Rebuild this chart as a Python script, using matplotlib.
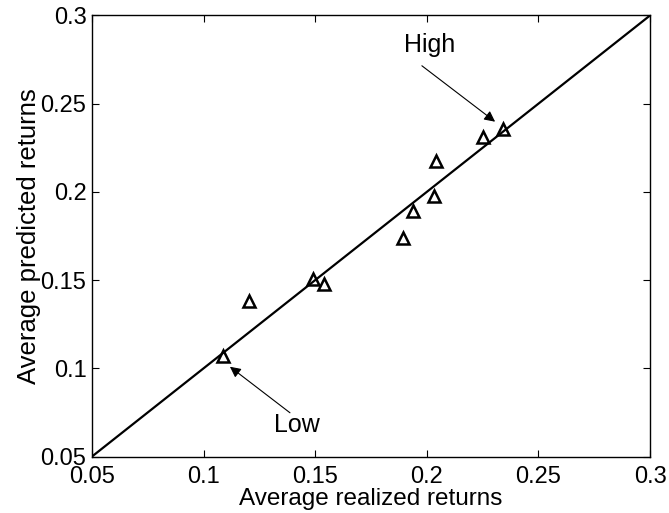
import matplotlib
matplotlib.use("Agg")
import matplotlib.pyplot as plt
import numpy as np

plt.rcParams['font.family'] = ['Liberation Sans', 'DejaVu Sans']

# Average realized vs. predicted returns per portfolio
realized = [0.1087, 0.1203, 0.1492, 0.1541, 0.1893, 0.1937, 0.2032, 0.2041, 0.2250, 0.2340]
predicted = [0.1070, 0.1382, 0.1506, 0.1476, 0.1737, 0.1893, 0.1979, 0.2175, 0.2309, 0.2357]

xticks = [0.05, 0.1, 0.15, 0.2, 0.25, 0.3]
xtick_labels = ['0.05', '0.1', '0.15', '0.2', '0.25', '0.3']
yticks = [0.05, 0.1, 0.15, 0.2, 0.25, 0.3]
ytick_labels = ['0.05', '0.1', '0.15', '0.2', '0.25', '0.3']

fig = plt.figure(figsize=(6.69, 5.13), dpi=100)
ax = fig.add_axes([0.1375, 0.1101, 0.8341, 0.8597])

# 45-degree reference line
ax.plot([0.05, 0.3], [0.05, 0.3], color='black', linewidth=1.6)
ax.plot(realized, predicted, linestyle='none', marker='^', markersize=8,
        markerfacecolor='none', markeredgecolor='black', markeredgewidth=1.8)

# Labels with arrows pointing at the extreme portfolios
arrow_style = dict(arrowstyle='-|>', color='black', lw=0.8,
                   shrinkA=0, shrinkB=0, mutation_scale=16)
ax.annotate('', xy=(0.2306, 0.2398), xytext=(0.1978, 0.2715), arrowprops=arrow_style)
ax.text(0.2014, 0.2833, 'High', ha='center', va='center', fontsize=18)
ax.annotate('', xy=(0.1118, 0.1009), xytext=(0.1387, 0.0748), arrowprops=arrow_style)
ax.text(0.1417, 0.0679, 'Low', ha='center', va='center', fontsize=18)

ax.set_xlim(0.05, 0.3)
ax.set_ylim(0.05, 0.3)
ax.set_xticks(xticks)
ax.set_xticklabels(xtick_labels)
ax.set_yticks(yticks)
ax.set_yticklabels(ytick_labels)
ax.tick_params(direction='in', length=5, width=0.8, top=True, right=True,
               labelsize=17)
ax.tick_params(axis='x', pad=7)
ax.tick_params(axis='y', pad=4)
for s in ax.spines.values():
    s.set_linewidth(1.0)

ax.set_xlabel('Average realized returns', fontsize=17.5, labelpad=0)
ax.set_ylabel('Average predicted returns', fontsize=18.5, labelpad=0)

fig.savefig('out.png', dpi=100)
